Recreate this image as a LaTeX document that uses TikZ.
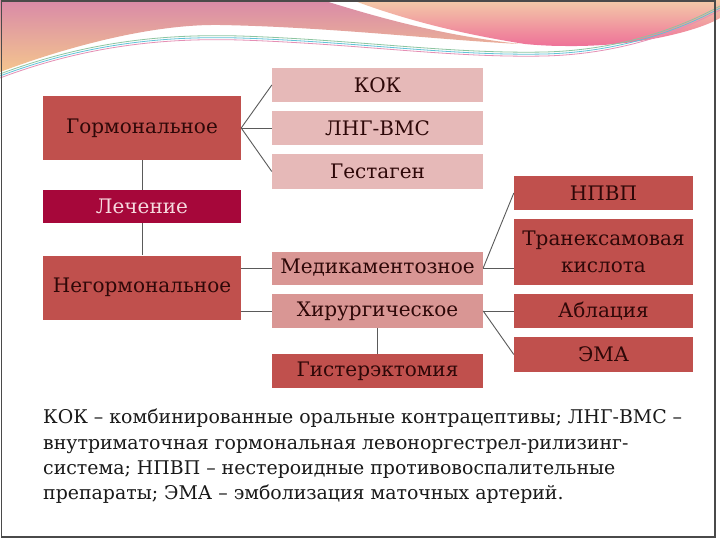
\documentclass[tikz,border=0pt]{standalone}
\usepackage{fontspec}
\setmainfont{DejaVu Serif}
\usepackage{tikz}
\usetikzlibrary{positioning}
\definecolor{boxred}{HTML}{C0504D}
\definecolor{boxcrimson}{HTML}{A6073A}
\definecolor{boxpink}{HTML}{E6B9B8}
\definecolor{boxrose}{HTML}{D99694}
\definecolor{inkred}{HTML}{2E0808}
\definecolor{inklight}{HTML}{F6D9DE}
\definecolor{linkgray}{HTML}{5A5A5A}
\definecolor{wavemauve}{HTML}{D98AA8}
\definecolor{wavepeach}{HTML}{F4C58E}
\definecolor{wavesand}{HTML}{F4CBA8}
\definecolor{wavepink}{HTML}{EE6F98}
\definecolor{wavegreen}{HTML}{8CC5A0}
\definecolor{wavecyan}{HTML}{60C2D8}
\definecolor{waverose}{HTML}{E58FB5}
\definecolor{framegray}{HTML}{4A4A4A}

\begin{document}
\begin{tikzpicture}[
  x=1pt,y=-1pt,
  box/.style={rectangle,inner sep=0pt,align=center,font=\fontsize{20}{27}\selectfont},
  redbox/.style={box,fill=boxred,text=inkred},
  pinkbox/.style={box,fill=boxpink,text=inkred},
  rosebox/.style={box,fill=boxrose,text=inkred},
  wide/.style={minimum width=211pt},
  leftw/.style={minimum width=198pt},
  rightw/.style={minimum width=179pt},
  link/.style={draw=linkgray,line width=0.9pt}
]
\useasboundingbox (0,0) rectangle (720,540);
\fill[white] (0,0) rectangle (720,540);
\shade[top color=wavemauve,bottom color=wavepeach]
  (0,0) -- (322,0) .. controls (380,18) and (440,35) .. (520,44)
  .. controls (440,40) and (330,27) .. (220,25)
  .. controls (160,24) and (80,42) .. (0,72) -- cycle;
\shade[top color=wavesand,bottom color=wavepink]
  (352,0) -- (720,0) -- (720,18) .. controls (700,30) and (640,47) .. (565,46)
  .. controls (550,46) and (535,45) .. (525,44)
  .. controls (455,33) and (400,18) .. (352,0) -- cycle;
\foreach \dy/\col in {0/wavegreen,2/wavecyan,4/waverose}
  \draw[\col,line width=0.8pt,yshift=-\dy pt]
    (0,74) .. controls (90,40) and (170,34) .. (240,36)
    .. controls (360,40) and (450,54) .. (545,52)
    .. controls (620,50) and (680,28) .. (720,6);
\draw[framegray,line width=1.5pt] (1.5,1) rectangle (715,537);

\node[redbox,leftw,minimum height=64pt] (hormonal) at (142,128) {Гормональное};
\node[box,leftw,minimum height=33pt,fill=boxcrimson,text=inklight] (treat) at (142,206.5) {Лечение};
\node[redbox,leftw,minimum height=64pt] (nonhormonal) at (142,287.5) {Негормональное};
\node[pinkbox,wide,minimum height=34pt] (coc) at (377.5,85) {КОК};
\node[pinkbox,wide,minimum height=34pt] (lngius) at (377.5,128) {ЛНГ-ВМС};
\node[pinkbox,wide,minimum height=35pt] (gestagen) at (377.5,171.5) {Гестаген};
\node[rosebox,wide,minimum height=33pt] (medical) at (377.5,268) {Медикаментозное};
\node[rosebox,wide,minimum height=34pt] (surgical) at (377.5,311) {Хирургическое};
\node[redbox,wide,minimum height=34pt] (hysterectomy) at (377.5,371) {Гистерэктомия};
\node[redbox,rightw,minimum height=34pt] (nsaid) at (603.5,193) {НПВП};
\node[redbox,rightw,minimum height=66pt] (tranexamic) at (603.5,252) {Транексамовая\\кислота};
\node[redbox,rightw,minimum height=34pt] (ablation) at (603.5,311) {Аблация};
\node[redbox,rightw,minimum height=35pt] (ema) at (603.5,354.5) {ЭМА};

\draw[link] (hormonal.east) -- (coc.west);
\draw[link] (hormonal.east) -- (lngius.west);
\draw[link] (hormonal.east) -- (gestagen.west);
\draw[link] (hormonal.south) -- (treat.north);
\draw[link] (treat.south) -- (nonhormonal.north);
\draw[link] (nonhormonal.east |- medical.west) -- (medical.west);
\draw[link] (nonhormonal.east |- surgical.west) -- (surgical.west);
\draw[link] (medical.east) -- (nsaid.west);
\draw[link] (medical.east) -- (medical.east -| tranexamic.west);
\draw[link] (surgical.east) -- (ablation.west);
\draw[link] (surgical.east) -- (ema.west);
\draw[link] (surgical.south) -- (hysterectomy.north);

\node[anchor=north west,align=left,inner sep=0pt,text=black!90,
  font=\fontsize{18.9}{25.3}\selectfont] (legend) at (43,409)
  {КОК – комбинированные оральные контрацептивы; ЛНГ-ВМС –\\
   внутриматочная гормональная левоноргестрел-рилизинг-\\
   система; НПВП – нестероидные противовоспалительные\\
   препараты; ЭМА – эмболизация маточных артерий.};
\end{tikzpicture}
\end{document}
